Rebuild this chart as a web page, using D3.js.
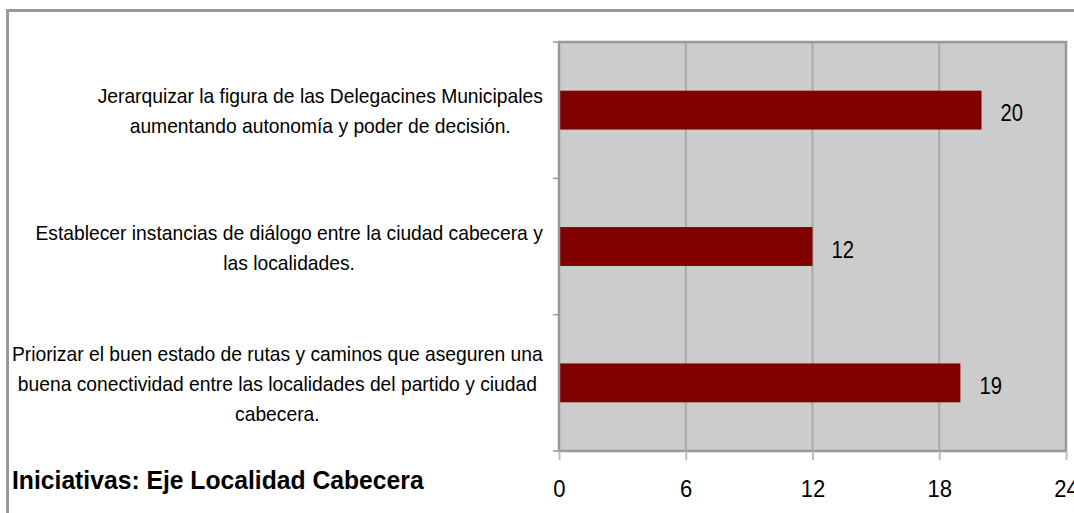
<!DOCTYPE html>
<html>
<head>
<meta charset="utf-8">
<script src="https://cdn.jsdelivr.net/npm/d3@7"></script>
<style>
  body { margin: 0; background: #fff; }
  text { font-family: "Liberation Sans", Arial, sans-serif; fill: #000; }
</style>
</head>
<body>
<div id="chart"></div>
<script>
// datos
var categorias = [
  ["Jerarquizar la figura de las Delegacines Municipales", "aumentando autonomía y poder de decisión."],
  ["Establecer instancias de diálogo entre la ciudad cabecera y", "las localidades."],
  ["Priorizar el buen estado de rutas y caminos que aseguren una", "buena conectividad entre las localidades del partido y ciudad", "cabecera."]
];
var valores = [20, 12, 19];
var ticksX = [0, 6, 12, 18, 24];
var titulo = "Iniciativas: Eje Localidad Cabecera";

var W = 1074, H = 513;
var plot = {left: 559, right: 1066, top: 42, bottom: 451};
var sx = 0.92; // el texto original esta algo comprimido en horizontal

var svg = d3.select("#chart").append("svg")
  .attr("width", W).attr("height", H);

// marco exterior
svg.append("path")
  .attr("d", "M7.5," + H + "V10.5H" + W)
  .attr("fill", "none").attr("stroke", "#999").attr("stroke-width", 3);

var x = d3.scaleLinear().domain([0, 24]).range([plot.left, plot.right]);
var y = d3.scaleBand().domain(d3.range(categorias.length))
  .range([plot.top, plot.bottom]).paddingInner(0.715).paddingOuter(0.357);

// fondo
svg.append("rect")
  .attr("x", plot.left).attr("y", plot.top)
  .attr("width", plot.right - plot.left).attr("height", plot.bottom - plot.top)
  .attr("fill", "#cccccc");

// grilla
svg.selectAll(".grid").data(ticksX.slice(1, -1)).enter().append("line")
  .attr("x1", d => x(d)).attr("x2", d => x(d))
  .attr("y1", plot.top).attr("y2", plot.bottom)
  .attr("stroke", "#aaa").attr("stroke-width", 2);

// barras
svg.selectAll(".bar").data(valores).enter().append("rect")
  .attr("x", x(0)).attr("y", (d, i) => y(i))
  .attr("width", d => x(d) - x(0)).attr("height", y.bandwidth())
  .attr("fill", "#800000");

// etiquetas de valor
svg.selectAll(".val").data(valores).enter().append("text")
  .attr("transform", (d, i) => "translate(" + (x(d) + 19) + "," + (y(i) + y.bandwidth() / 2 + 11) + ") scale(0.88,1)")
  .attr("font-size", 23)
  .text(d => d);

// borde del area
svg.append("rect")
  .attr("x", plot.left).attr("y", plot.top)
  .attr("width", plot.right - plot.left).attr("height", plot.bottom - plot.top)
  .attr("fill", "none").attr("stroke", "#999").attr("stroke-width", 2.5);

// eje x
var xAxis = d3.axisBottom(x).tickValues(ticksX).tickSize(9).tickPadding(0);
var gx = svg.append("g").attr("transform", "translate(0," + plot.bottom + ")").call(xAxis);
gx.select(".domain").remove();
gx.selectAll(".tick line").attr("stroke", "#bbb").attr("stroke-width", 2);
gx.selectAll(".tick text")
  .attr("y", 46).attr("dy", null)
  .attr("transform", "scale(" + sx + ",1)")
  .attr("font-size", 24).attr("font-family", "Liberation Sans, Arial, sans-serif").attr("fill", "#000");

// marcas eje y
var bordes = d3.range(categorias.length + 1).map(i => plot.top + i * (plot.bottom - plot.top) / categorias.length);
svg.selectAll(".ytick").data(bordes).enter().append("line")
  .attr("x1", plot.left - 6).attr("x2", plot.left)
  .attr("y1", d => d).attr("y2", d => d)
  .attr("stroke", "#999").attr("stroke-width", 1.5);

// etiquetas de categorias
var lh = 30, sxc = 0.94;
categorias.forEach(function(lineas, i) {
  var g = svg.append("g");
  var cy = y(i) + y.bandwidth() / 2;
  var y0 = cy - (lineas.length - 1) * lh / 2 + 8;
  var t = g.selectAll("text").data(lineas).enter().append("text")
    .attr("font-size", 20.5)
    .attr("text-anchor", "middle")
    .text(d => d);
  var maxW = d3.max(t.nodes(), n => n.getComputedTextLength()) * sxc;
  t.attr("transform", (d, j) => "translate(" + (543 - maxW / 2) + "," + (y0 + j * lh) + ") scale(" + sxc + ",1)");
});

// titulo
svg.append("text")
  .attr("transform", "translate(12,489) scale(0.95,1)")
  .attr("font-size", 26).attr("font-weight", "bold")
  .text(titulo);
</script>
</body>
</html>
